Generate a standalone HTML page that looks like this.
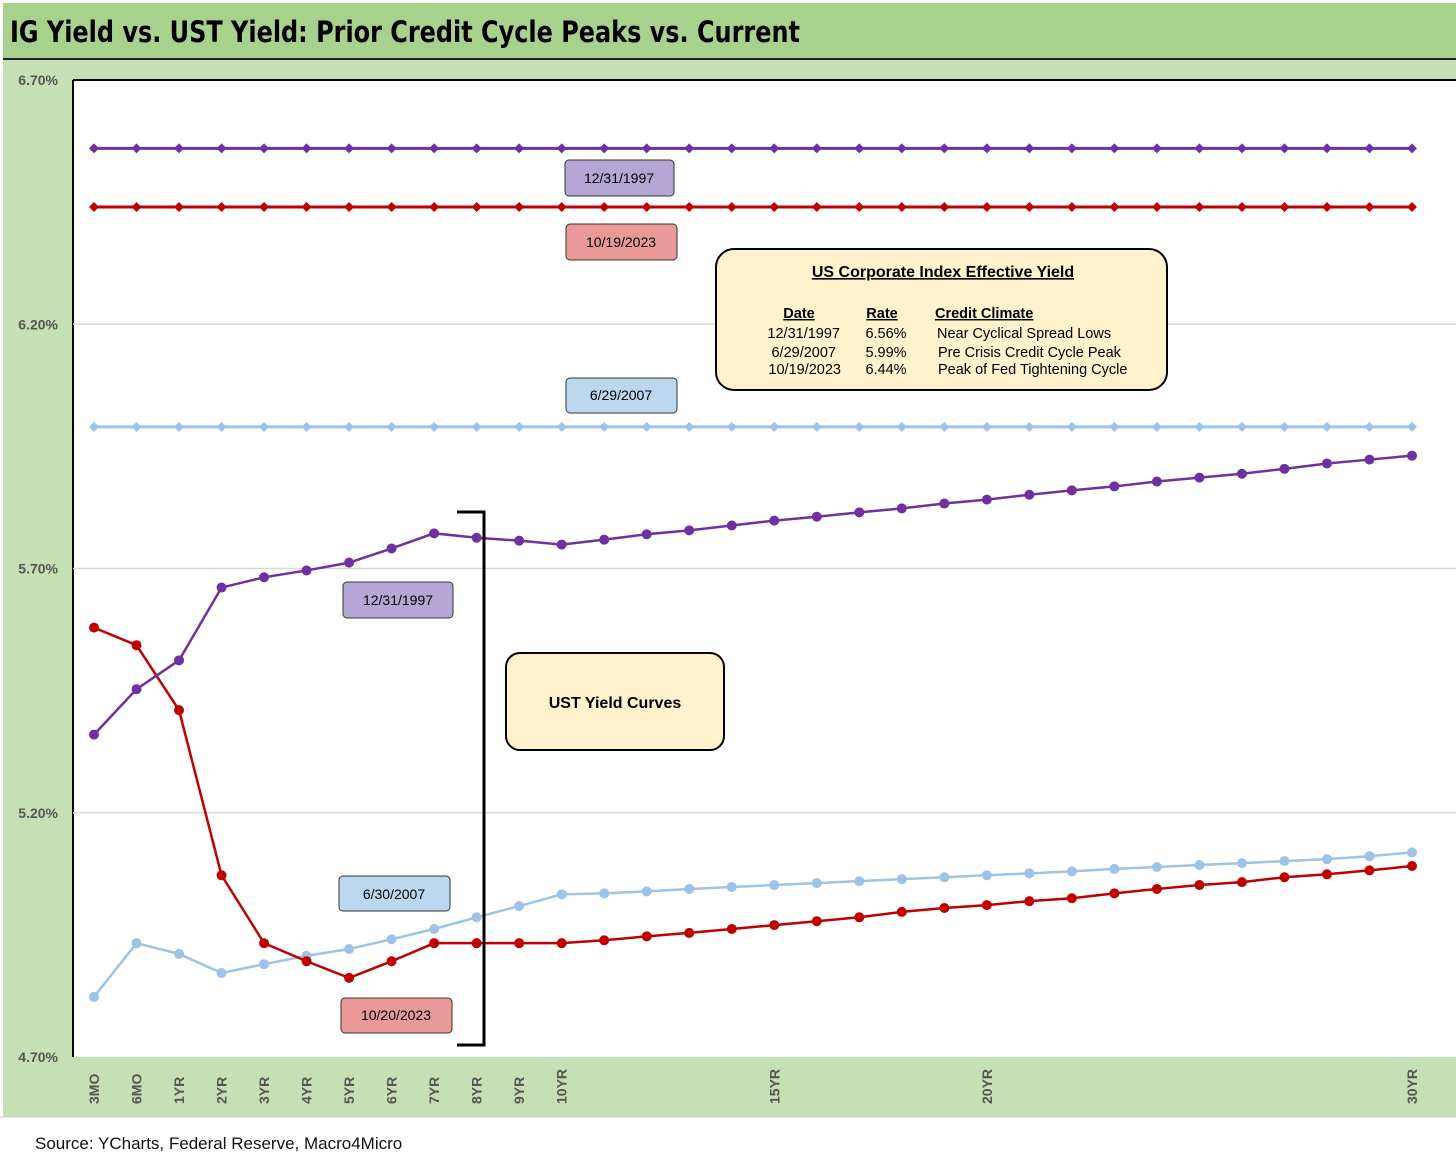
<!DOCTYPE html>
<html><head><meta charset="utf-8"><style>
body{margin:0;width:1456px;height:1166px;overflow:hidden;background:#fff;font-family:"Liberation Sans",sans-serif}
svg{display:block}
</style></head><body>
<svg id="chart" width="1456" height="1166" xmlns="http://www.w3.org/2000/svg">
<rect x="0" y="0" width="1456" height="1166" fill="#fff"/>
<rect x="3" y="3" width="1453" height="56" fill="#a9d18e"/>
<line x1="3" y1="59" x2="1456" y2="59" stroke="#222" stroke-width="2"/>
<text x="10" y="42" font-size="29" font-weight="bold" fill="#000" font-family="'DejaVu Sans Condensed','Liberation Sans',sans-serif" textLength="790" lengthAdjust="spacingAndGlyphs">IG Yield vs. UST Yield: Prior Credit Cycle Peaks vs. Current</text>
<rect x="3" y="60" width="1453" height="1057" fill="#c5e0b4"/>
<rect x="73" y="80" width="1383" height="977" fill="#fff"/>
<line x1="73" y1="80" x2="1456" y2="80" stroke="#000" stroke-width="2"/>
<line x1="73" y1="80" x2="73" y2="1057" stroke="#000" stroke-width="2"/>
<g id="grid"></g><g id="yticks"></g><g id="xticks"></g><g id="series"></g>
<g font-weight="500">
<rect x="565" y="160" width="109" height="36" rx="4" fill="#b4a7d6" stroke="#333"/>
<text x="619" y="183" font-size="14" text-anchor="middle">12/31/1997</text>
<rect x="566" y="224" width="111" height="36" rx="4" fill="#ea9999" stroke="#333"/>
<text x="621" y="247" font-size="14" text-anchor="middle">10/19/2023</text>
<rect x="566" y="378" width="111" height="35" rx="4" fill="#bdd7ee" stroke="#333"/>
<text x="621" y="400" font-size="14" text-anchor="middle">6/29/2007</text>
<rect x="343" y="582" width="110" height="36" rx="4" fill="#b4a7d6" stroke="#333"/>
<text x="398" y="605" font-size="14" text-anchor="middle">12/31/1997</text>
<rect x="339" y="876" width="111" height="35" rx="4" fill="#bdd7ee" stroke="#333"/>
<text x="394" y="899" font-size="14" text-anchor="middle">6/30/2007</text>
<rect x="341" y="998" width="111" height="35" rx="4" fill="#ea9999" stroke="#333"/>
<text x="396" y="1020" font-size="14" text-anchor="middle">10/20/2023</text>
<path d="M457 512 H484 V1045 H457" fill="none" stroke="#000" stroke-width="3"/>
<rect x="506" y="653" width="218" height="97" rx="14" fill="#fff2cc" stroke="#000" stroke-width="2"/>
<text x="615" y="708" font-size="16" font-weight="bold" text-anchor="middle">UST Yield Curves</text>
<rect x="716" y="249" width="451" height="141" rx="18" fill="#fff2cc" stroke="#000" stroke-width="2"/>
<text x="943" y="277" font-size="16" font-weight="bold" text-anchor="middle" text-decoration="underline">US Corporate Index Effective Yield</text>
<g font-size="14.5">
<text x="799" y="318" font-weight="bold" text-anchor="middle" text-decoration="underline">Date</text>
<text x="882" y="318" font-weight="bold" text-anchor="middle" text-decoration="underline">Rate</text>
<text x="935" y="318" font-weight="bold" text-decoration="underline">Credit Climate</text>
<text x="840" y="338" text-anchor="end">12/31/1997</text><text x="886" y="338" text-anchor="middle">6.56%</text><text x="937" y="338">Near Cyclical Spread Lows</text>
<text x="836" y="357" text-anchor="end">6/29/2007</text><text x="886" y="357" text-anchor="middle">5.99%</text><text x="938" y="357">Pre Crisis Credit Cycle Peak</text>
<text x="841" y="374" text-anchor="end">10/19/2023</text><text x="886" y="374" text-anchor="middle">6.44%</text><text x="938" y="374">Peak of Fed Tightening Cycle</text>
</g></g>
<line x1="0" y1="1117" x2="1456" y2="1117" stroke="#ccc"/>
<text x="35" y="1149" font-size="17" fill="#111">Source: YCharts, Federal Reserve, Macro4Micro</text>
</svg>
<script>
const categories=["3MO","6MO","1YR","2YR","3YR","4YR","5YR","6YR","7YR","8YR","9YR","10YR","11YR","12YR","13YR","14YR","15YR","16YR","17YR","18YR","19YR","20YR","21YR","22YR","23YR","24YR","25YR","26YR","27YR","28YR","29YR","30YR"];
const shownLabels=["3MO","6MO","1YR","2YR","3YR","4YR","5YR","6YR","7YR","8YR","9YR","10YR","15YR","20YR","30YR"];
const yTicks=[4.70,5.20,5.70,6.20,6.70];
const ig1997=6.56, ig2007=5.99, ig2023=6.44;
const ust1997=[5.36,5.453,5.512,5.661,5.682,5.696,5.712,5.741,5.772,5.763,5.757,5.749,5.759,5.770,5.778,5.788,5.798,5.806,5.815,5.823,5.833,5.841,5.851,5.860,5.868,5.878,5.886,5.894,5.904,5.915,5.923,5.931];
const ust2023=[5.579,5.543,5.410,5.072,4.933,4.896,4.862,4.896,4.933,4.933,4.933,4.933,4.939,4.947,4.954,4.962,4.970,4.978,4.986,4.997,5.005,5.011,5.019,5.025,5.035,5.044,5.052,5.058,5.068,5.074,5.082,5.091];
const ust2007=[4.823,4.933,4.911,4.872,4.890,4.907,4.921,4.941,4.962,4.986,5.009,5.033,5.035,5.039,5.044,5.048,5.052,5.056,5.060,5.064,5.068,5.072,5.076,5.080,5.085,5.089,5.093,5.097,5.101,5.105,5.111,5.119];
const NS="http://www.w3.org/2000/svg";
const y=v=>80+(6.70-v)/(6.70-4.70)*977;
const x=i=>94+i*(1412-94)/(categories.length-1);
function mk(t,a,p){const e=document.createElementNS(NS,t);for(const k in a)e.setAttribute(k,a[k]);p.appendChild(e);return e;}
const grid=document.getElementById('grid'),yt=document.getElementById('yticks'),xt=document.getElementById('xticks'),ser=document.getElementById('series');
yTicks.forEach(v=>{
 if(v>4.7&&v<6.7){const g=mk('line',{x1:73,x2:1456,y1:y(v),y2:y(v),stroke:'#d9d9d9','stroke-width':1.5},grid);
 
 }
 const t=mk('text',{x:58,y:y(v)+5,'font-size':14,'font-weight':'bold',fill:'#555','text-anchor':'end'},yt);
 t.textContent=v.toFixed(2)+'%';
 
 
});
categories.forEach((c,i)=>{
 if(!shownLabels.includes(c))return;
 const t=mk('text',{transform:`translate(${x(i)+5},1104) rotate(-90)`,'font-size':14,'font-weight':'bold',fill:'#555'},xt);
 t.textContent=c;
 
 
});
function series(vals,color,name,diamond){
 const pts=vals.map((v,i)=>x(i)+','+y(v)).join(' ');
 const pl=mk('polyline',{points:pts,fill:'none',stroke:color,'stroke-width':diamond?3:2.5},ser);
 
 
 vals.forEach((v,i)=>{
  let m;
  if(diamond){const cx=x(i),cy=y(v);m=mk('polygon',{points:`${cx},${cy-5} ${cx+5},${cy} ${cx},${cy+5} ${cx-5},${cy}`,fill:color},ser);}
  else m=mk('circle',{cx:x(i),cy:y(v),r:5,fill:color},ser);
  
  
 });
}
series(categories.map(()=>ig1997),'#7030a0','ig-1997',true);
series(categories.map(()=>ig2023),'#c00000','ig-2023',true);
series(categories.map(()=>ig2007),'#9dc3e6','ig-2007',true);
series(ust2007,'#9dc3e6','ust-2007',false);
series(ust2023,'#c00000','ust-2023',false);
series(ust1997,'#7030a0','ust-1997',false);
</script>
</body></html>
